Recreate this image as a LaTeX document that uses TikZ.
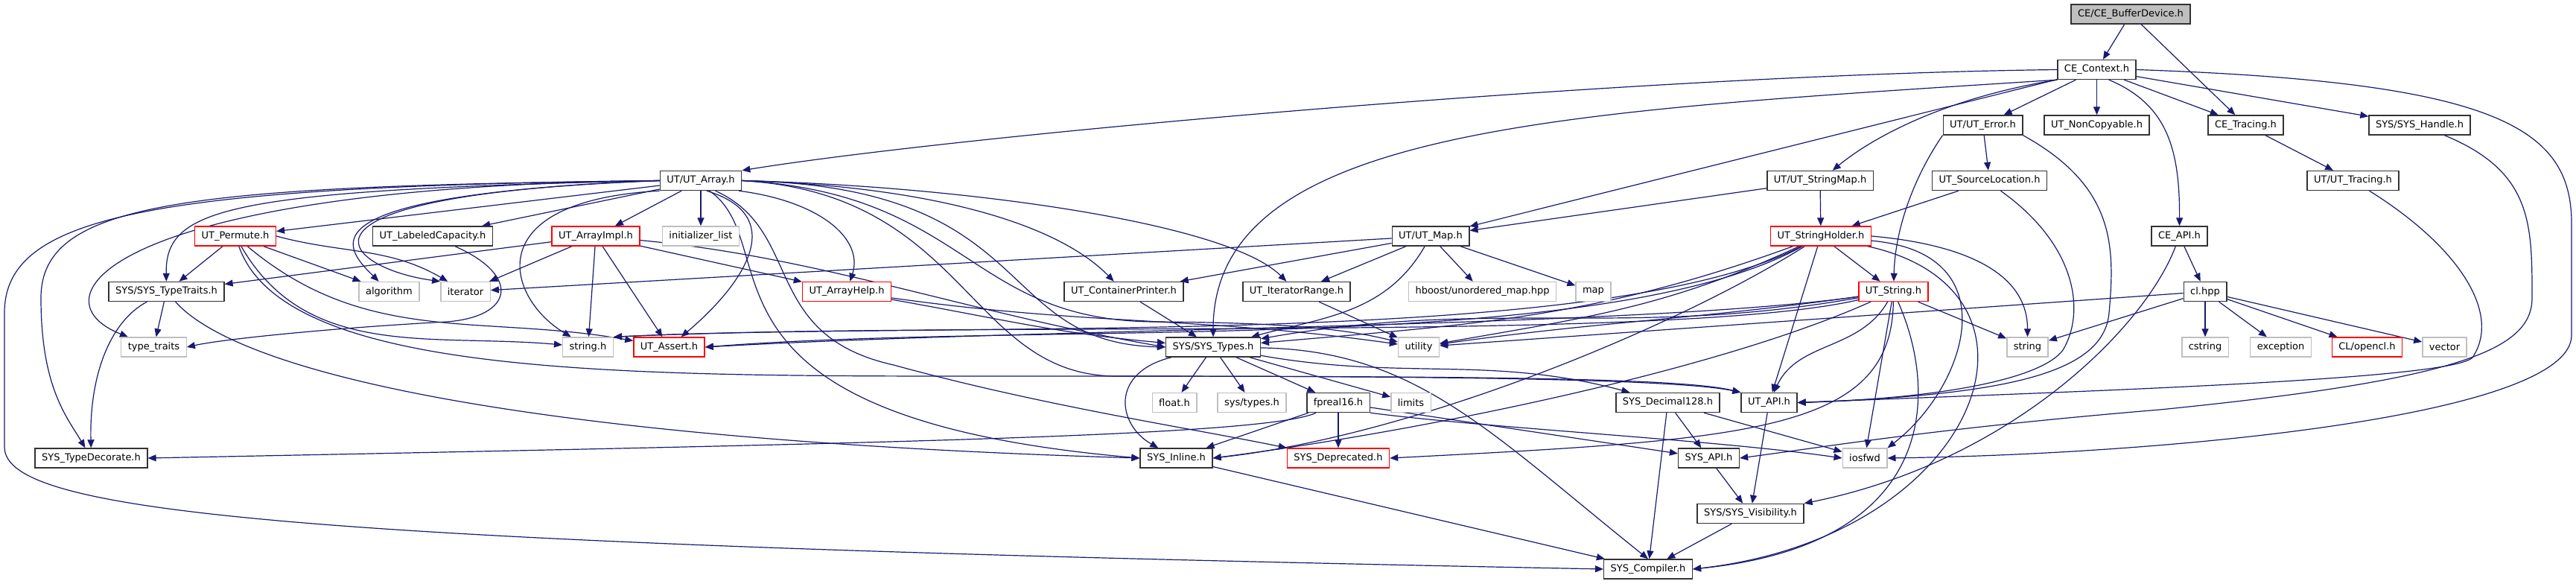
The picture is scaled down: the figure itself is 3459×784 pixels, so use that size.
\documentclass[tikz,border=0pt]{standalone}
\usepackage{fontspec}
\setmainfont{DejaVu Sans}
\usetikzlibrary{arrows.meta,backgrounds}

\definecolor{edgeblue}{HTML}{191970}
\definecolor{extgray}{HTML}{BFBFBF}

\begin{document}
\begin{tikzpicture}[x=1pt, y=1pt,
    hdr/.style={draw=black!80, line width=1.4pt, fill=white, minimum height=26pt,
        inner xsep=9pt, inner ysep=0pt, font=\fontsize{13}{16}\selectfont},
    ext/.style={hdr, draw=extgray},
    trunc/.style={hdr, draw=red},
    root/.style={hdr, fill=extgray},
    dep/.style={draw=edgeblue, line width=1.2pt, -{Triangle[length=11pt,width=9pt]}}]
    \useasboundingbox (0,0) rectangle (3459,-784);

    % rows 0-3
    \node[root] (buf) at (2861,-19) {CE/CE\_BufferDevice.h};
    \node[hdr] (ctx) at (2815.5,-93.5) {CE\_Context.h};
    \node[hdr] (err) at (2662.5,-168) {UT/UT\_Error.h};
    \node[hdr] (noncp) at (2815.5,-168) {UT\_NonCopyable.h};
    \node[hdr] (cetr) at (3015.5,-168) {CE\_Tracing.h};
    \node[hdr] (hdl) at (3249,-168) {SYS/SYS\_Handle.h};
    \node[hdr] (arr) at (941,-242.5) {UT/UT\_Array.h};
    \node[hdr] (smap) at (2444,-242.5) {UT/UT\_StringMap.h};
    \node[hdr] (srcl) at (2671.5,-242.5) {UT\_SourceLocation.h};
    \node[hdr] (uttr) at (3159.5,-242.5) {UT/UT\_Tracing.h};
    % row 4
    \node[trunc] (perm) at (316,-317) {UT\_Permute.h};
    \node[hdr] (labc) at (581,-317) {UT\_LabeledCapacity.h};
    \node[trunc] (impl) at (800,-317) {UT\_ArrayImpl.h};
    \node[ext] (initl) at (941,-317) {initializer\_list};
    \node[hdr] (map) at (1921,-317) {UT/UT\_Map.h};
    \node[trunc] (shold) at (2445,-317) {UT\_StringHolder.h};
    \node[hdr] (ceapi) at (2926.5,-317) {CE\_API.h};
    % row 5
    \node[hdr] (ttr) at (223.5,-391.5) {SYS/SYS\_TypeTraits.h};
    \node[ext] (algo) at (522.5,-391.5) {algorithm};
    \node[ext] (iter) at (625,-391.5) {iterator};
    \node[trunc] (help) at (1137,-391.5) {UT\_ArrayHelp.h};
    \node[hdr] (cprn) at (1509,-391.5) {UT\_ContainerPrinter.h};
    \node[hdr] (irng) at (1741,-391.5) {UT\_IteratorRange.h};
    \node[ext] (hbst) at (1990.5,-391.5) {hboost/unordered\_map.hpp};
    \node[ext] (mapx) at (2139.5,-391.5) {map};
    \node[trunc] (str) at (2542.5,-391.5) {UT\_String.h};
    \node[hdr] (clhpp) at (2961,-391.5) {cl.hpp};
    % row 6
    \node[ext] (tyt) at (206.5,-466) {type\_traits};
    \node[ext] (strh) at (789.5,-466) {string.h};
    \node[trunc] (asrt) at (898.5,-466) {UT\_Assert.h};
    \node[hdr] (types) at (1629,-466) {SYS/SYS\_Types.h};
    \node[ext] (util) at (1905,-466) {utility};
    \node[ext] (strg) at (2722.5,-466) {string};
    \node[ext] (cstr) at (2961,-466) {cstring};
    \node[ext] (exc) at (3062.5,-466) {exception};
    \node[trunc] (ocl) at (3178.5,-466) {CL/opencl.h};
    \node[ext] (vec) at (3282.5,-466) {vector};
    % row 7
    \node[ext] (flt) at (1577,-540.5) {float.h};
    \node[ext] (syst) at (1681,-540.5) {sys/types.h};
    \node[hdr] (fp16) at (1797,-540.5) {fpreal16.h};
    \node[ext] (lim) at (1894.5,-540.5) {limits};
    \node[hdr] (dec) at (2239.5,-540.5) {SYS\_Decimal128.h};
    \node[hdr] (utapi) at (2375.5,-540.5) {UT\_API.h};
    % rows 8-10
    \node[hdr] (tdec) at (122.5,-615) {SYS\_TypeDecorate.h};
    \node[hdr] (inl) at (1579.5,-615) {SYS\_Inline.h};
    \node[trunc] (depr) at (1797,-615) {SYS\_Deprecated.h};
    \node[hdr] (sysapi) at (2294.5,-615) {SYS\_API.h};
    \node[ext] (iosf) at (2504,-615) {iosfwd};
    \node[hdr] (vis) at (2350.5,-689.5) {SYS/SYS\_Visibility.h};
    \node[hdr] (comp) at (2213,-764) {SYS\_Compiler.h};

    \begin{scope}[on background layer]
    \fill[white] (0,0) rectangle (3459,-784);
    % root and CE_Context.h
    \draw[dep] (buf) -- (ctx);
    \draw[dep] (buf) -- (cetr);
    \draw[dep] (ctx.west) .. controls (2200,-100) and (1300,-180) .. (arr.north east);
    \draw[dep] (ctx.south west) .. controls (2100,-150) and (1629,-170) .. (types.north);
    \draw[dep] (ctx) -- (map);
    \draw[dep] (ctx.south west) .. controls (2620,-130) and (2520,-180) .. (smap);
    \draw[dep] (ctx) -- (err);
    \draw[dep] (ctx) -- (noncp);
    \draw[dep] (ctx.-40) .. controls (2910,-140) and (2927,-200) .. (ceapi);
    \draw[dep] (ctx) -- (cetr);
    \draw[dep] (ctx) -- (hdl);
    \draw[dep] (ctx.east) .. controls (3350,-110) and (3453,-170) .. (3453,-300)
        -- (3453,-450) .. controls (3453,-560) and (2900,-610) .. (iosf.east);
    % second and third row
    \draw[dep] (err) -- (srcl);
    \draw[dep] (err.south west) .. controls (2575,-230) and (2545,-300) .. (str);
    \draw[dep] (err.south east) .. controls (2840,-250) and (2840,-330) .. (2832,-420)
        .. controls (2825,-500) and (2700,-530) .. (utapi.east);
    \draw[dep] (cetr) -- (uttr);
    \draw[dep] (hdl) .. controls (3400,-230) and (3400,-300) .. (3400,-400)
        .. controls (3400,-470) and (3300,-510) .. (2900,-550)
        .. controls (2600,-575) and (2450,-600) .. (sysapi.east);
    \draw[dep] (smap) -- (shold);
    \draw[dep] (smap) -- (map);
    \draw[dep] (srcl) -- (shold);
    \draw[dep] ([xshift=15pt]srcl.south) .. controls (2790,-330) and (2800,-420) .. (2770,-470)
        .. controls (2740,-510) and (2600,-535) .. (utapi.east);
    \draw[dep] (uttr) .. controls (3300,-330) and (3360,-420) .. (3320,-480)
        .. controls (3290,-510) and (2800,-525) .. (utapi.east);
    % UT_Array.h
    \draw[dep] (arr) -- (perm);
    \draw[dep] (arr.west) .. controls (300,-255) and (222,-280) .. (ttr);
    \draw[dep] (arr.west) .. controls (250,-250) and (55,-270) .. (55,-400)
        .. controls (55,-520) and (90,-560) .. (tdec);
    \draw[dep] (arr.west) .. controls (200,-250) and (6,-290) .. (6,-420)
        -- (6,-600) .. controls (6,-690) and (400,-730) .. (comp.west);
    \draw[dep] (arr) -- (labc);
    \draw[dep] (arr.west) .. controls (400,-262) and (460,-330) .. (algo);
    \draw[dep] (arr.west) .. controls (350,-262) and (460,-360) .. (iter.north west);
    \draw[dep] (arr.west) .. controls (150,-250) and (40,-400) .. (tyt);
    \draw[dep] (arr) -- (impl);
    \draw[dep] (arr) -- (initl);
    \draw[dep] (arr.south west) .. controls (640,-270) and (680,-400) .. (strh);
    \draw[dep] (arr.-60) .. controls (1060,-290) and (1000,-380) .. (asrt);
    \draw[dep] (arr.-50) .. controls (1060,-330) and (900,-560) .. (inl.west);
    \draw[dep] (arr.-35) .. controls (1080,-310) and (1020,-450) .. (1200,-490)
        .. controls (1400,-545) and (1600,-575) .. (depr.north west);
    \draw[dep] (arr.-15) .. controls (1100,-270) and (1160,-320) .. (help);
    \draw[dep] (arr.east) .. controls (1250,-250) and (1420,-300) .. (cprn);
    \draw[dep] (arr.east) .. controls (1300,-250) and (1650,-300) .. (irng);
    \draw[dep] (arr.east) .. controls (1400,-250) and (1330,-460) .. (types.west);
    \draw[dep] (arr.east) .. controls (1300,-260) and (1300,-430) .. (1550,-432)
        .. controls (1750,-433) and (1820,-445) .. (util);
    \draw[dep] (arr.east) .. controls (1300,-260) and (1300,-505) .. (1500,-505)
        .. controls (1900,-505) and (2250,-508) .. (utapi.north west);
    % UT_Permute.h, UT_LabeledCapacity.h, UT_ArrayImpl.h
    \draw[dep] (perm) -- (ttr);
    \draw[dep] (perm) -- (algo);
    \draw[dep] (perm.east) to[out=-15,in=150] (iter);
    \draw[dep] (perm) to[out=-60,in=175] (strh);
    \draw[dep] (perm) to[out=-40,in=170] (asrt);
    \draw[dep] (perm) .. controls (380,-500) and (800,-505) .. (1300,-505)
        .. controls (1900,-505) and (2250,-505) .. (utapi.north west);
    \draw[dep] ([xshift=30pt]labc.south) .. controls (700,-370) and (690,-425) .. (600,-432)
        .. controls (450,-440) and (300,-455) .. (tyt.east);
    \draw[dep] (impl) -- (ttr);
    \draw[dep] (impl) -- (iter);
    \draw[dep] (impl) -- (strh);
    \draw[dep] (impl) -- (asrt);
    \draw[dep] (impl) -- (help);
    \draw[dep] (impl) .. controls (1100,-345) and (1300,-420) .. (types.west);
    % UT_Map.h
    \draw[dep] (map) -- (iter);
    \draw[dep] (map) -- (cprn);
    \draw[dep] (map) -- (irng);
    \draw[dep] (map) to[out=240,in=15] (types);
    \draw[dep] (map) -- (hbst);
    \draw[dep] (map) -- (mapx);
    % fifth row
    \draw[dep] (ttr) -- (tyt);
    \draw[dep] (ttr) .. controls (150,-430) and (120,-500) .. (tdec);
    \draw[dep] (ttr) .. controls (320,-500) and (700,-590) .. (inl.west);
    \draw[dep] (help) to[out=-10,in=175] (types);
    \draw[dep] (help) to[out=-8,in=172] (util);
    \draw[dep] (cprn) -- (types);
    \draw[dep] (irng) -- (util);
    % UT_StringHolder.h
    \draw[dep] (shold) -- (str);
    \draw[dep] (shold.east) to[out=-5,in=90] (strg);
    \draw[dep] (shold) .. controls (2700,-340) and (2640,-520) .. (iosf.north east);
    \draw[dep] (shold) .. controls (2780,-390) and (2660,-720) .. (comp.east);
    \draw[dep] (shold) -- (utapi);
    \draw[dep] (shold) to[out=200,in=5] (types);
    \draw[dep] (shold) to[out=205,in=10] (util);
    \draw[dep] (shold) .. controls (2150,-480) and (1400,-430) .. (asrt.east);
    \draw[dep] (shold) .. controls (2150,-470) and (1300,-430) .. (strh.north east);
    \draw[dep] (shold) .. controls (2250,-440) and (1900,-585) .. (inl.east);
    % UT_String.h
    \draw[dep] (str) -- (strg);
    \draw[dep] (str) to[out=240,in=65] (utapi);
    \draw[dep] (str) -- (iosf);
    \draw[dep] (str) .. controls (2600,-520) and (2610,-730) .. (comp.east);
    \draw[dep] (str) .. controls (2540,-580) and (2350,-590) .. (depr.east);
    \draw[dep] (str) to[out=190,in=10] (types);
    \draw[dep] (str) to[out=188,in=8] (util);
    \draw[dep] (str) .. controls (2200,-440) and (1400,-440) .. (asrt.east);
    \draw[dep] (str) .. controls (2250,-460) and (1300,-430) .. (strh.north east);
    \draw[dep] (str) .. controls (2300,-500) and (1900,-580) .. (inl.east);
    % CE_API.h and cl.hpp
    \draw[dep] (ceapi) -- (clhpp);
    \draw[dep] (ceapi) .. controls (2880,-440) and (2700,-620) .. (vis.north east);
    \draw[dep] (clhpp) -- (cstr);
    \draw[dep] (clhpp) -- (exc);
    \draw[dep] (clhpp) -- (ocl);
    \draw[dep] (clhpp) -- (vec);
    \draw[dep] (clhpp) -- (strg);
    \draw[dep] (clhpp) -- (util);
    % SYS_Types.h
    \draw[dep] (types) -- (flt);
    \draw[dep] (types) -- (syst);
    \draw[dep] (types) .. controls (1490,-500) and (1500,-570) .. (inl);
    \draw[dep] (types) -- (fp16);
    \draw[dep] (types) -- (lim);
    \draw[dep] (types) to[out=-10,in=165] (dec);
    \draw[dep] (types) .. controls (1900,-470) and (2000,-580) .. (comp.north);
    % lower rows
    \draw[dep] (fp16) -- (depr);
    \draw[dep] (fp16) -- (inl);
    \draw[dep] (fp16) .. controls (1700,-585) and (1200,-595) .. (tdec.east);
    \draw[dep] (fp16) -- (sysapi);
    \draw[dep] (fp16.south east) .. controls (2000,-575) and (2300,-590) .. (iosf.west);
    \draw[dep] (dec) -- (sysapi);
    \draw[dep] (dec) -- (comp);
    \draw[dep] (dec) -- (iosf);
    \draw[dep] (utapi) -- (vis);
    \draw[dep] (sysapi) -- (vis);
    \draw[dep] (vis) -- (comp);
    \draw[dep] (inl) -- (comp);
    \end{scope}
\end{tikzpicture}
\end{document}
